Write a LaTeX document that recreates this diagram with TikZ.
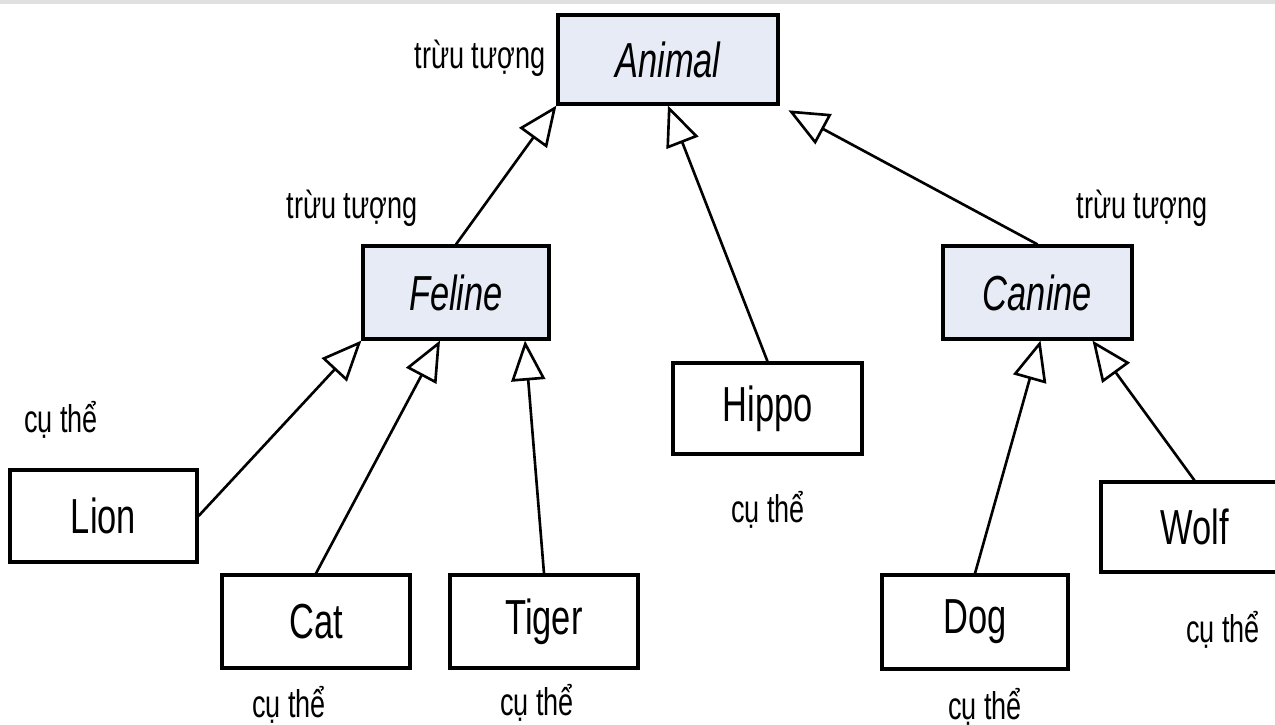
\documentclass[tikz,border=0pt]{standalone}
\usepackage{fontspec}
\setmainfont{Liberation Sans}[FakeStretch=0.7]
\usetikzlibrary{arrows.meta}

\definecolor{absfill}{RGB}{230,235,246}

\begin{document}
\begin{tikzpicture}[line width=0.75pt,>={Triangle[open,length=4mm,width=3.4mm]},
  cls/.style={draw,line width=0.9pt,minimum width=1.87cm,minimum height=0.92cm,
    inner sep=0pt,font=\fontsize{14}{16}\selectfont},
  abs/.style={cls,fill=absfill,font=\fontsize{14}{16}\selectfont\itshape},
  lbl/.style={inner sep=0pt,font=\fontsize{11}{13}\selectfont}]
\useasboundingbox (0,0) rectangle (12.75,7.25);
\clip (0,0) rectangle (12.75,7.25);
\fill[black!12] (0,7.21) rectangle (12.75,7.25);
% lớp trừu tượng
\node[abs,minimum width=2.2cm,minimum height=0.89cm] (animal) at (6.68,6.655) {Animal};
\node[abs,minimum width=1.86cm,minimum height=0.93cm] (feline) at (4.56,4.325) {Feline};
\node[abs,minimum width=1.89cm,minimum height=0.93cm] (canine) at (10.375,4.325) {Canine};
% lớp cụ thể
\node[cls,minimum width=1.89cm,minimum height=0.91cm] (hippo) at (7.675,3.165) {Hippo};
\node[cls] (lion) at (1.035,2.09) {Lion};
\node[cls,minimum width=1.88cm,minimum height=0.93cm] (cat) at (3.16,1.035) {Cat};
\node[cls,minimum width=1.88cm,minimum height=0.93cm] (tiger) at (5.44,1.035) {Tiger};
\node[cls,minimum width=1.86cm,minimum height=0.94cm] (dog) at (9.75,1.03) {Dog};
\node[cls,minimum height=0.9cm] (wolf) at (11.945,1.98) {Wolf};
% nhãn
\node[lbl] (animallbl) at (4.80,6.67) {trừu tượng};
\node[lbl] (felinelbl) at (3.52,5.17) {trừu tượng};
\node[lbl] (caninelbl) at (11.42,5.17) {trừu tượng};
\node[lbl] (lionlbl) at (0.61,3.05) {cụ thể};
\node[lbl] (hippolbl) at (7.68,2.15) {cụ thể};
\node[lbl] (catlbl) at (2.89,0.20) {cụ thể};
\node[lbl] (tigerlbl) at (5.37,0.22) {cụ thể};
\node[lbl] (doglbl) at (9.85,0.18) {cụ thể};
\node[lbl] (wolflbl) at (12.23,0.95) {cụ thể};
% kế thừa
\draw[->] (feline.north) -- (animal.south west);
\draw[->] (hippo.north) -- (animal.south);
\draw[->,shorten >=1mm] (canine.north) -- (animal.south east);
\draw[->] (lion.east) -- (feline.south west);
\draw[->] (cat.north) -- ([xshift=-1.6mm]feline.south);
\draw[->] (tiger.north) -- ([xshift=6.9mm]feline.south);
\draw[->] (dog.north) -- ([xshift=0.3mm]canine.south);
\draw[->] (wolf.north) -- ([xshift=5.5mm]canine.south);
\end{tikzpicture}
\end{document}
